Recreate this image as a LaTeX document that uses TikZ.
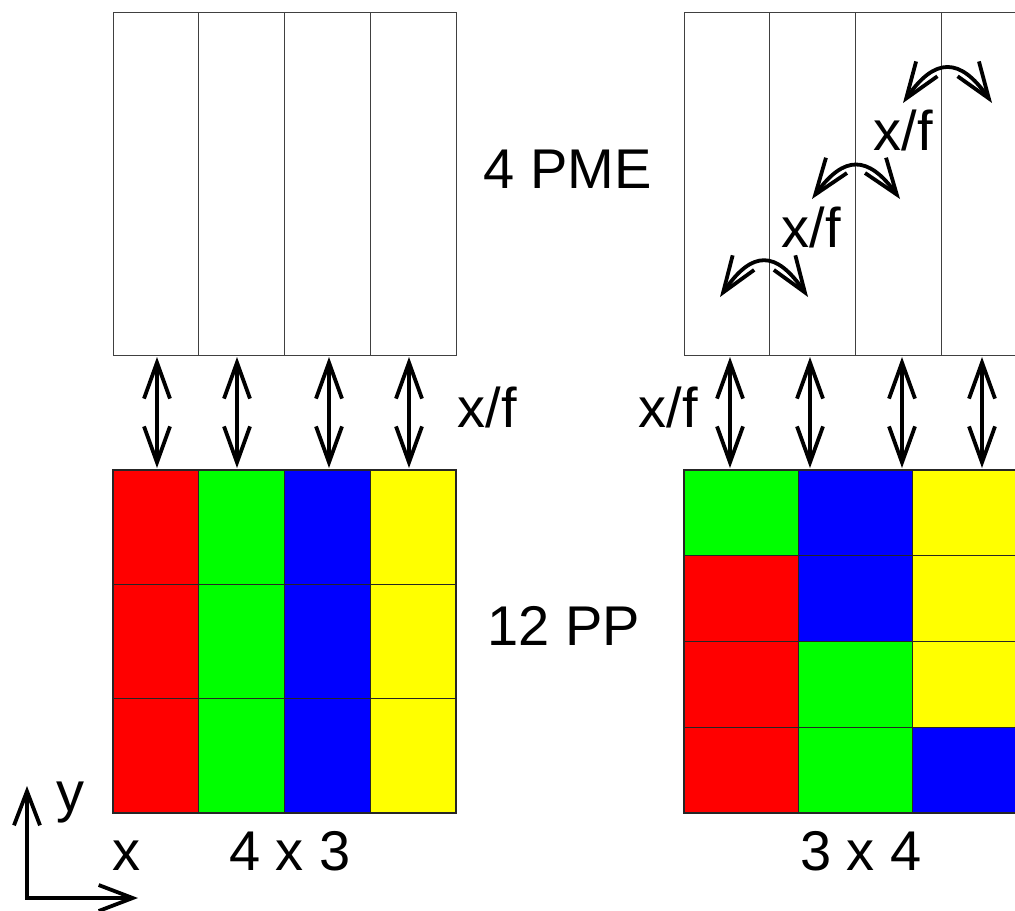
\documentclass[tikz,border=0pt]{standalone}
\usepackage{fontspec}
\setmainfont{Liberation Sans}
\usetikzlibrary{arrows.meta}
\definecolor{pred}{RGB}{255,0,0}
\definecolor{pgreen}{RGB}{0,255,0}
\definecolor{pblue}{RGB}{0,0,255}
\definecolor{pyellow}{RGB}{255,255,0}
\begin{document}
\begin{tikzpicture}[x=0.5pt,y=-0.5pt,
  col/.style={draw=black!75, line width=0.5pt, minimum width=42.875pt, minimum height=171.5pt, inner sep=0pt, outer sep=0pt},
  lcell/.style={draw=black!85, line width=0.6pt, minimum width=42.875pt, minimum height=57.17pt, inner sep=0pt, outer sep=0pt},
  rcell/.style={draw=black!85, line width=0.6pt, minimum width=57.17pt, minimum height=42.875pt, inner sep=0pt, outer sep=0pt},
  lbl/.style={font=\fontsize{28}{32}\selectfont, inner sep=0pt, anchor=base},
  dbl/.style={line width=1.9pt, {Straight Barb[length=18pt,width=13pt]}-{Straight Barb[length=18pt,width=13pt]}}]
\useasboundingbox (0,0) rectangle (1015,910);
\clip (0,0) rectangle (1015,910);

% left PME columns
\foreach \i in {1,...,4}
  \node[col] (lp\i) at ({113+85.75*(\i-0.5)},183.5) {};
% right PME columns
\foreach \i in {1,...,4}
  \node[col] (rp\i) at ({684+85.75*(\i-0.5)},183.5) {};

% left PP grid 4x3
\foreach \i/\c in {1/pred,2/pgreen,3/pblue,4/pyellow}
  \foreach \j in {1,2,3}
    \node[lcell, fill=\c] (lg\i\j) at ({113+85.75*(\i-0.5)},{470+114.33*(\j-0.5)}) {};

% right PP grid 3x4
\foreach \i/\j/\c in {1/1/pgreen,2/1/pblue,3/1/pyellow,
                      1/2/pred,2/2/pblue,3/2/pyellow,
                      1/3/pred,2/3/pgreen,3/3/pyellow,
                      1/4/pred,2/4/pgreen,3/4/pblue}
  \node[rcell, fill=\c] (rg\i\j) at ({684+114.33*(\i-0.5)},{470+85.75*(\j-0.5)}) {};

% vertical double arrows
\foreach \n/\x in {1/157,2/237,3/329,4/409}{
  \coordinate (la\n t) at (\x,357);
  \coordinate (la\n b) at (\x,468);
  \draw[dbl] (la\n t) -- (la\n b);
}
\foreach \n/\x in {1/730,2/810,3/902,4/982}{
  \coordinate (ra\n t) at (\x,357);
  \coordinate (ra\n b) at (\x,468);
  \draw[dbl] (ra\n t) -- (ra\n b);
}

% curved exchange arrows
\coordinate (c1s) at (720,297); \coordinate (c1e) at (808,297);
\coordinate (c2s) at (812,199); \coordinate (c2e) at (900,199);
\coordinate (c3s) at (903,103); \coordinate (c3e) at (992,103);
\draw[dbl] (c1s) .. controls (752,250) and (776,250) .. (c1e);
\draw[dbl] (c2s) .. controls (844,155) and (868,155) .. (c2e);
\draw[dbl] (c3s) .. controls (935,57) and (960,57) .. (c3e);

% labels
\node[lbl] (tpme) at (568,188) {4 PME};
\node[lbl] (tpp) at (564,645) {12 PP};
\node[lbl] (xfl) at (487,427) {x/f};
\node[lbl] (xfr) at (668,427) {x/f};
\node[lbl] (xf1) at (811,247) {x/f};
\node[lbl] (xf2) at (903,150) {x/f};
\node[lbl] (t43) at (290,870) {4 x 3};
\node[lbl] (t34) at (861,870) {3 x 4};
\node[lbl] (ax) at (126,870) {x};
\node[lbl] (ay) at (70,811) {y};

% axes
\coordinate (o) at (27,898);
\coordinate (oy) at (27,786);
\coordinate (ox) at (138,898);
\draw[line width=1.9pt, line join=miter, {Straight Barb[length=17pt,width=13pt]}-{Straight Barb[length=17pt,width=13pt]}] (oy) -- (o) -- (ox);
\end{tikzpicture}
\end{document}
